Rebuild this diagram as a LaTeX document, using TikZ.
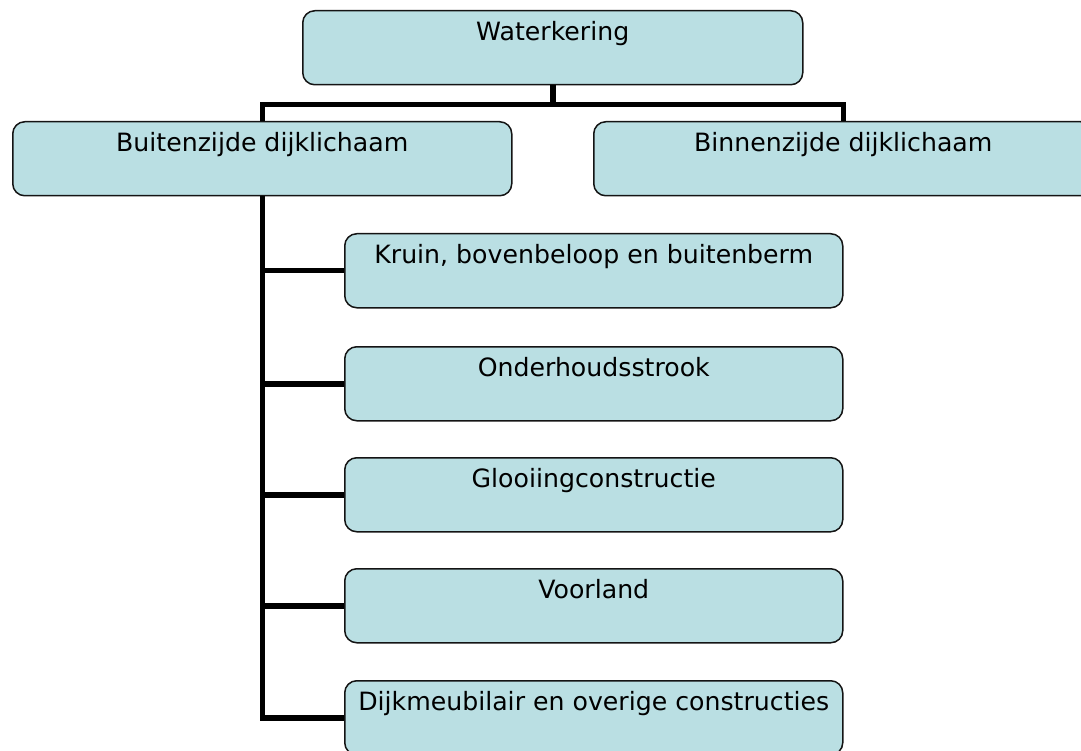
\documentclass[tikz,border=0pt]{standalone}
\usepackage{fontspec}
\setmainfont{DejaVu Sans}
\definecolor{boxfill}{RGB}{186,223,227}
\definecolor{boxline}{RGB}{20,20,20}
\begin{document}
\begin{tikzpicture}[x=1pt,y=-1pt,
  box/.style={draw=boxline, line width=1.5pt, fill=boxfill, rounded corners=12pt,
    anchor=north west, inner xsep=0pt, inner ysep=0pt,
    text height=30pt, text depth=44pt, font=\fontsize{25.2}{29}\selectfont},
  wide/.style={box, minimum width=500pt},
  child/.style={box, minimum width=498pt},
  conn/.style={line width=5.5pt, draw=black, line join=miter}]
\useasboundingbox (0,0) rectangle (1081,751);
\clip (0,0) rectangle (1081,751);
\node[wide] (W) at (302,10) {Waterkering};
\node[wide, minimum width=499pt] (Bu) at (12,121) {Buitenzijde dijklichaam};
\node[wide, minimum width=499pt] (Bi) at (593,121) {Binnenzijde dijklichaam};
\node[child] (c1) at (344,233) {Kruin, bovenbeloop en buitenberm};
\node[child] (c2) at (344,346) {Onderhoudsstrook};
\node[child] (c3) at (344,457) {Glooiingconstructie};
\node[child] (c4) at (344,568) {Voorland};
\node[child] (c5) at (344,680) {Dijkmeubilair en overige constructies};
\coordinate (bus) at ([yshift=-19pt]W.south);
\draw[conn] (W.south) -- (bus) -| (Bu.north);
\draw[conn] (bus) -| (Bi.north);
\draw[conn] (Bu.south) |- (c5.west);
\draw[conn] (Bu.south) |- (c1.west);
\draw[conn] (Bu.south) |- (c2.west);
\draw[conn] (Bu.south) |- (c3.west);
\draw[conn] (Bu.south) |- (c4.west);
\end{tikzpicture}
\end{document}
